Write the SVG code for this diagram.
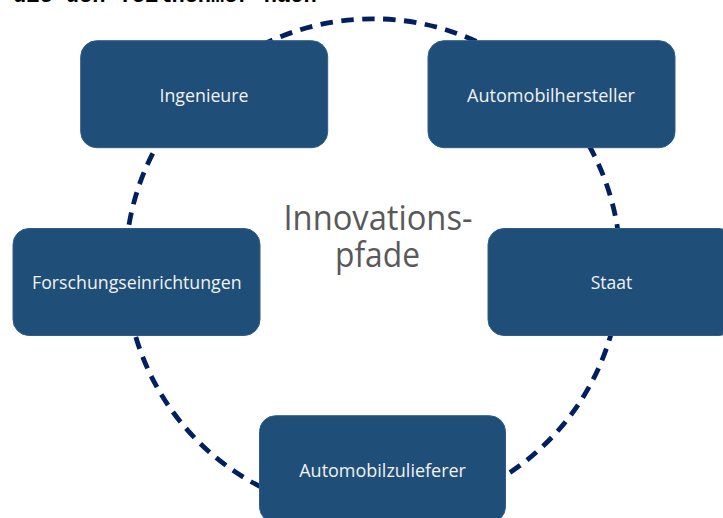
<svg xmlns="http://www.w3.org/2000/svg" width="723" height="518" viewBox="0 0 723 518">
  <style>
    .box { fill: #1F4E79; stroke: #2F5D89; stroke-width: 1; }
    .lbl { font-family: "Open Sans", "Liberation Sans", sans-serif; font-size: 18px; fill: #F2F2F2; text-anchor: middle; }
    .ring { fill: none; stroke: #002060; stroke-width: 4.8; stroke-dasharray: 12.5 8.5; }
    .center { font-family: "Open Sans", "Liberation Sans", sans-serif; font-size: 34px; fill: #595959; text-anchor: middle; }
    .top { font-family: "Liberation Mono", monospace; font-weight: bold; font-size: 22px; fill: #000000; }
  </style>
  <rect width="723" height="518" fill="#FFFFFF"/>
  <text class="top" x="13" y="1.8">die den Teilnehmer nach</text>
  <g id="connectors">
    <circle class="ring" cx="373" cy="266.3" r="247.5"/>
  </g>
  <text class="center" x="378" y="229.5" textLength="189" lengthAdjust="spacingAndGlyphs">Innovations-</text>
  <text class="center" x="377.5" y="267" textLength="85" lengthAdjust="spacingAndGlyphs">pfade</text>
  <g id="ingenieure">
    <rect class="box" x="80.7" y="40.7" width="247" height="107" rx="16"/>
    <text class="lbl" x="204" y="101.7" textLength="89" lengthAdjust="spacingAndGlyphs">Ingenieure</text>
  </g>
  <g id="automobilhersteller">
    <rect class="box" x="428" y="40.7" width="247" height="107" rx="16"/>
    <text class="lbl" x="551" y="101.7" textLength="168" lengthAdjust="spacingAndGlyphs">Automobilhersteller</text>
  </g>
  <g id="forschungseinrichtungen">
    <rect class="box" x="13" y="228.5" width="247" height="107" rx="16"/>
    <text class="lbl" x="136.8" y="289.3" textLength="209.5" lengthAdjust="spacingAndGlyphs">Forschungseinrichtungen</text>
  </g>
  <g id="staat">
    <rect class="box" x="488" y="228.5" width="247" height="107" rx="16"/>
    <text class="lbl" x="611.5" y="289.3" textLength="41.6" lengthAdjust="spacingAndGlyphs">Staat</text>
  </g>
  <g id="automobilzulieferer">
    <rect class="box" x="259.5" y="415.7" width="246" height="107" rx="16"/>
    <text class="lbl" x="382.6" y="476.7" textLength="166.7" lengthAdjust="spacingAndGlyphs">Automobilzulieferer</text>
  </g>
</svg>
